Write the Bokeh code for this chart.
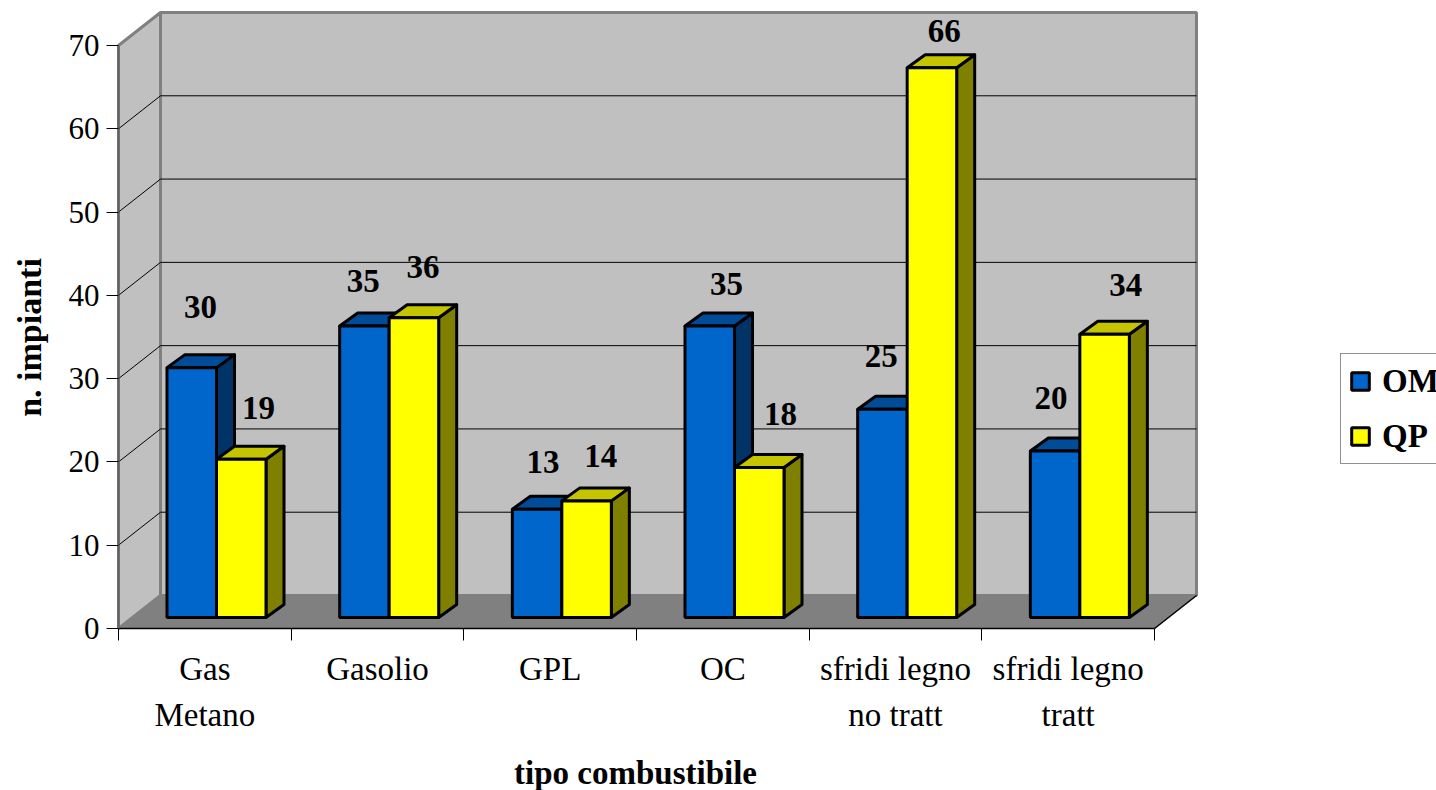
import math
from bokeh.plotting import figure
from bokeh.models import Range1d, LinearAxis, FixedTicker, Legend, LegendItem, ColumnDataSource
from bokeh.core.properties import value
from bokeh.embed import file_html
from bokeh.resources import INLINE

# Data
categories = ["Gas\nMetano", "Gasolio", "GPL", "OC", "sfridi legno\nno tratt", "sfridi legno\ntratt"]
om_values = [30, 35, 13, 35, 25, 20]
qp_values = [19, 36, 14, 18, 66, 34]
y_ticks = [0, 10, 20, 30, 40, 50, 60, 70]

# Label placement (category units / value units from bar top)
om_label_dx = [0.475, 0.417, 0.458, 0.521, 0.417, 0.400]
qp_label_dx = [0.811, 0.764, 0.793, 0.834, 0.782, 0.834]
om_label_lift = [8.65, 6.78, 7.05, 6.42, 7.66, 7.73]
qp_label_lift = [7.42, 7.35, 6.77, 7.70, 5.80, 7.30]

# Layout
W, H = 1436, 790
LEFT_PX, ZERO_PX = 118, 628
PX_X, PX_Y = 172.67, 8.3286
WALL_DX, WALL_DY = 42 / PX_X, 33 / PX_Y
BAR_DX, BAR_DY = 18 / PX_X, 13 / PX_Y
BAR_BASE = 11 / PX_Y
BAR_LEFT, BAR_W = 48.5 / PX_X, 49.5 / PX_X
SERIF = value("Liberation Serif")
n = len(categories)

p = figure(width=W, height=H, output_backend="svg", toolbar_location=None,
           x_range=Range1d(-LEFT_PX / PX_X, (W - LEFT_PX) / PX_X),
           y_range=Range1d(-(H - ZERO_PX) / PX_Y, ZERO_PX / PX_Y),
           min_border_left=0, min_border_right=0, min_border_top=0, min_border_bottom=0,
           x_axis_type=None, y_axis_type=None)
p.outline_line_color = None
p.xgrid.visible = False
p.ygrid.visible = False
p.background_fill_color = "white"

# walls and floor
GREY = "#C0C0C0"
EDGE = "#808080"
p.patch([0, WALL_DX, WALL_DX, 0], [0, WALL_DY, 70 + WALL_DY, 70], fill_color=GREY, line_color=EDGE, line_width=3)
p.patch([WALL_DX, n + WALL_DX, n + WALL_DX, WALL_DX], [WALL_DY, WALL_DY, 70 + WALL_DY, 70 + WALL_DY],
        fill_color=GREY, line_color=EDGE, line_width=3)
p.patch([0, WALL_DX, n + WALL_DX, n], [0, WALL_DY, WALL_DY, 0], fill_color=EDGE, line_color=EDGE, line_width=1)

grid_v = [v for v in y_ticks if 0 < v < 70]
p.multi_line([[0, WALL_DX, n + WALL_DX] for _ in grid_v],
             [[v, v + WALL_DY, v + WALL_DY] for v in grid_v], line_color="black", line_width=1)
p.line([n, n + WALL_DX], [0, WALL_DY], line_color="black", line_width=1.5)


def draw_series(values, offset, front, top, side):
    lefts = [i + BAR_LEFT + offset * BAR_W for i in range(n)]
    rights = [l + BAR_W for l in lefts]
    tops = [BAR_BASE + v for v in values]
    p.patches([[r, r + BAR_DX, r + BAR_DX, r] for r in rights],
              [[BAR_BASE, BAR_BASE + BAR_DY, t + BAR_DY, t] for t in tops],
              fill_color=side, line_color="black", line_width=3, line_join="round")
    p.patches([[l, l + BAR_DX, r + BAR_DX, r] for l, r in zip(lefts, rights)],
              [[t, t + BAR_DY, t + BAR_DY, t] for t in tops],
              fill_color=top, line_color="black", line_width=3, line_join="round")
    return p.quad(left=lefts, right=rights, bottom=[BAR_BASE] * n, top=tops,
                  fill_color=front, line_color="black", line_width=3)


om_r = draw_series(om_values, 0, "#0066CC", "#004C99", "#003366")
qp_r = draw_series(qp_values, 1, "#FFFF00", "#C4C400", "#808000")

# value labels
for vals, dxs, lifts in ((om_values, om_label_dx, om_label_lift), (qp_values, qp_label_dx, qp_label_lift)):
    src = ColumnDataSource(dict(x=[i + d for i, d in enumerate(dxs)],
                                y=[v + l for v, l in zip(vals, lifts)],
                                t=[str(v) for v in vals]))
    p.text("x", "y", text="t", source=src, text_font=SERIF, text_font_style="bold",
           text_font_size="33px", text_align="center", text_baseline="middle", text_color="black")

# axes
ya = LinearAxis(ticker=FixedTicker(ticks=y_ticks), bounds=(0, 70), level="overlay", fixed_location=0)
ya.axis_line_color = "#606060"
ya.axis_line_width = 2
ya.major_tick_line_color = "black"
ya.major_tick_out = 12
ya.major_tick_in = 0
ya.minor_tick_line_color = None
ya.major_label_standoff = 7
ya.major_label_text_font = "Liberation Serif"
ya.major_label_text_font_size = "31px"
ya.major_label_text_color = "black"
p.add_layout(ya, "left")

xa = LinearAxis(ticker=FixedTicker(ticks=list(range(n + 1))), bounds=(0, n), level="overlay", fixed_location=0)
xa.axis_line_color = "black"
xa.axis_line_width = 1.5
xa.major_tick_line_color = "black"
xa.major_tick_out = 12
xa.major_tick_in = 0
xa.minor_tick_line_color = None
xa.major_label_text_font_size = "0px"
xa.major_label_overrides = {i: "" for i in range(n + 1)}
xa.major_label_standoff = 0
p.add_layout(xa, "below")

xc = LinearAxis(ticker=FixedTicker(ticks=[i + 0.5 for i in range(n)]), bounds=(0, n), level="overlay", fixed_location=0)
xc.axis_line_color = None
xc.major_tick_line_color = None
xc.minor_tick_line_color = None
xc.major_label_overrides = {i + 0.5: c for i, c in enumerate(categories)}
xc.major_label_text_font = "Liberation Serif"
xc.major_label_text_font_size = "33px"
xc.major_label_text_line_height = 1.3
xc.major_label_text_color = "black"
xc.major_label_standoff = 16
p.add_layout(xc, "below")

# axis titles
p.text([-(LEFT_PX - 29) / PX_X], [(ZERO_PX - 337) / PX_Y], text=["n. impianti"], angle=math.pi / 2,
       text_font=SERIF, text_font_style="bold", text_font_size="34px",
       text_align="center", text_baseline="middle", text_color="black")
p.text([(635 - LEFT_PX) / PX_X], [-(772 - ZERO_PX) / PX_Y], text=["tipo combustibile"],
       text_font=SERIF, text_font_style="bold", text_font_size="33px",
       text_align="center", text_baseline="middle", text_color="black")

legend = Legend(items=[LegendItem(label="OM", renderers=[om_r]), LegendItem(label="QP", renderers=[qp_r])],
                location=(1340, H - 464), orientation="vertical", margin=0, padding=8, spacing=17,
                glyph_width=22, glyph_height=22, label_standoff=11, label_height=38,
                label_text_font="Liberation Serif", label_text_font_style="bold", label_text_font_size="33px",
                label_text_color="black", border_line_color="#222222", border_line_width=1.5,
                background_fill_color="white", background_fill_alpha=1)
p.add_layout(legend, "center")

open("out.html", "w").write(file_html(p, INLINE))
